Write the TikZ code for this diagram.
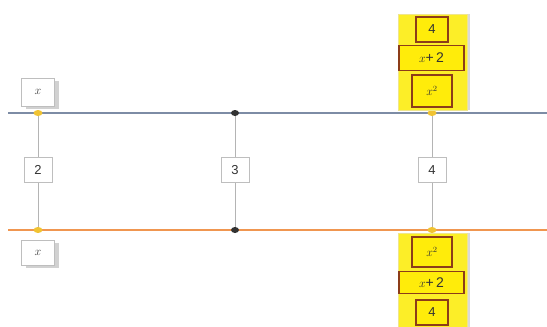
\documentclass[tikz,border=0pt]{standalone}
\usepackage{fontspec}
\setsansfont{Liberation Sans}
\usetikzlibrary{shapes.geometric,shadows}
\definecolor{topline}{RGB}{125,140,165}
\definecolor{botline}{RGB}{240,150,80}
\definecolor{vline}{RGB}{180,180,180}
\definecolor{ydot}{RGB}{240,195,50}
\definecolor{ddot}{RGB}{50,50,50}
\definecolor{stackbg}{RGB}{252,238,40}
\definecolor{stackedge}{RGB}{240,230,140}
\definecolor{boxfill}{RGB}{255,236,10}
\definecolor{boxdraw}{RGB}{140,60,25}
\definecolor{lblgray}{RGB}{190,190,190}
\tikzset{
  ydotn/.style={ellipse, fill=ydot, minimum width=9pt, minimum height=6pt, inner sep=0pt},
  ddotn/.style={ellipse, fill=ddot, minimum width=8pt, minimum height=6pt, inner sep=0pt},
  numbox/.style={draw=lblgray, fill=white, line width=0.6pt, minimum width=28pt, minimum height=25pt, inner sep=0pt, font=\sffamily\fontsize{13}{15}\selectfont, text=black!80},
  xbox/.style={draw=lblgray, fill=white, line width=0.6pt, minimum width=33pt, inner sep=0pt, font=\fontsize{12}{14}\selectfont, text=black!75, drop shadow={shadow xshift=4pt, shadow yshift=-3pt, fill=black!18, opacity=1}},
  stackbgn/.style={fill=stackbg, draw=stackedge, line width=1pt, inner sep=0pt, drop shadow={shadow xshift=3pt, shadow yshift=0pt, fill=black!15, opacity=1}},
  ybox/.style={draw=boxdraw, fill=boxfill, line width=1.2pt, inner sep=0pt, text=black!80, font=\fontsize{12}{14}\selectfont},
  hline/.style={line width=1.2pt},
  vl/.style={draw=vline, line width=1pt}
}
\begin{document}
\begin{tikzpicture}[x=1pt,y=-1pt]
\useasboundingbox (0,0) rectangle (547,327);
% horizontal wires
\coordinate (L1) at (8,113);
\coordinate (R1) at (547,113);
\coordinate (L2) at (8,230);
\coordinate (R2) at (547,230);
\draw[hline, topline] (L1) -- (R1);
\draw[hline, botline] (L2) -- (R2);
% dots
\node[ydotn] (d1) at (38,113) {};
\node[ddotn] (d2) at (235,113) {};
\node[ydotn] (d3) at (432,113) {};
\node[ydotn] (d4) at (38,230) {};
\node[ddotn] (d5) at (235,230) {};
\node[ydotn] (d6) at (432,230) {};
% verticals
\draw[vl] (d1) -- (d4);
\draw[vl] (d2) -- (d5);
\draw[vl] (d3) -- (d6);
% number labels
\node[numbox] (n2) at (38,170) {2};
\node[numbox] (n3) at (235,170) {3};
\node[numbox] (n4) at (432,170) {4};
% x labels
\node[xbox, minimum height=28pt] (xt) at (38,92) {$x$};
\node[xbox, minimum height=25pt] (xb) at (38,252.5) {$x$};
% top stack
\node[stackbgn, minimum width=69pt, minimum height=96pt] (st) at (432.5,62) {};
\node[ybox, minimum width=32pt, minimum height=25pt, font=\sffamily\fontsize{13}{15}\selectfont] (t4) at (432,29.5) {4};
\node[ybox, minimum width=65pt, minimum height=25pt] (tx2) at (431.5,58) {$x${\sffamily\fontsize{14}{16}\selectfont +\,2}};
\node[ybox, minimum width=40pt, minimum height=32pt] (tx) at (432,91) {$x^2$};
% bottom stack
\node[stackbgn, minimum width=69pt, minimum height=96pt] (sb) at (432.5,281) {};
\node[ybox, minimum width=40pt, minimum height=30pt] (bx) at (432,252) {$x^2$};
\node[ybox, minimum width=65pt, minimum height=22pt] (bx2) at (431.5,282.5) {$x${\sffamily\fontsize{14}{16}\selectfont +\,2}};
\node[ybox, minimum width=32pt, minimum height=25pt, font=\sffamily\fontsize{13}{15}\selectfont] (b4) at (432,312.5) {4};
\end{tikzpicture}
\end{document}
